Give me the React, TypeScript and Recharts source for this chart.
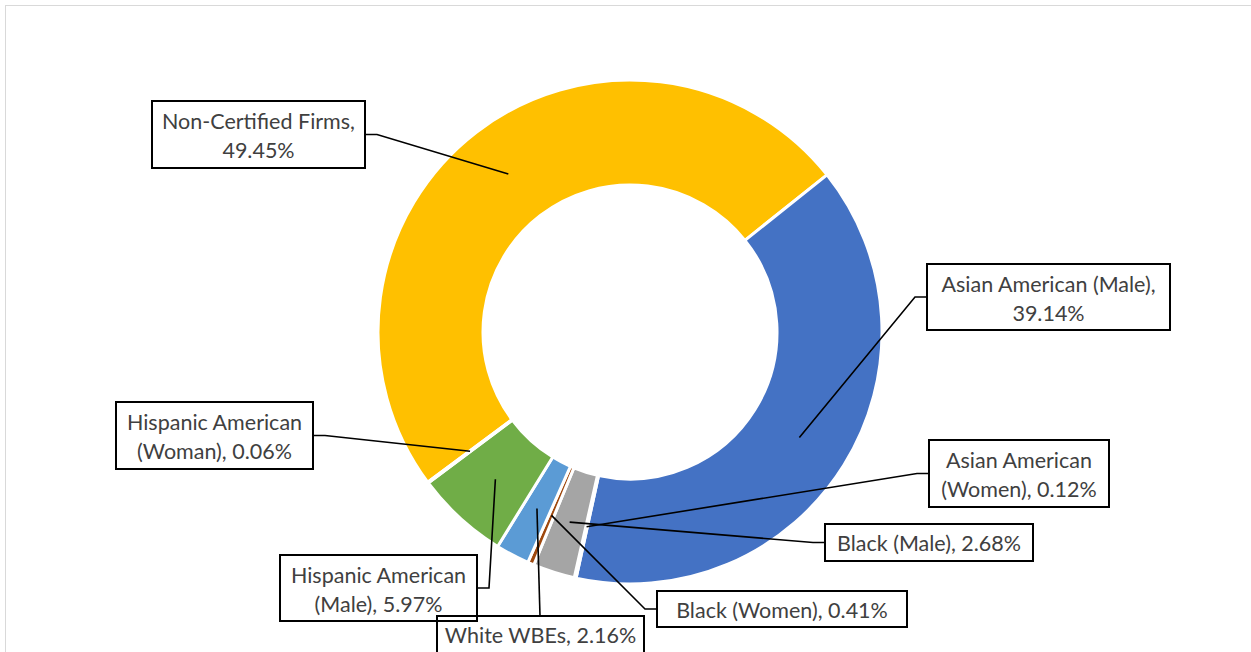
import { Cell, Pie, PieChart } from "recharts";

const CATEGORIES = [
  "Non-Certified Firms",
  "Asian American (Male)",
  "Asian American (Women)",
  "Black (Male)",
  "Black (Women)",
  "White WBEs",
  "Hispanic American (Male)",
  "Hispanic American (Woman)",
];
const SHARES = [49.45, 39.14, 0.12, 2.68, 0.41, 2.16, 5.97, 0.06];
const COLORS = ["#FFC000", "#4472C4", "#ED7D31", "#A5A5A5", "#9E480E", "#5B9BD5", "#70AD47", "#264478"];

// label boxes: where each data label sits, which edge the leader joins, words on line 1 (0 = single line)
const BOXES = [
  { x: 152, y: 101, w: 213, h: 67, side: "right", wrap: 2 },
  { x: 927, y: 264, w: 243, h: 66, side: "left", wrap: 3 },
  { x: 929, y: 440, w: 180, h: 67, side: "left", wrap: 2 },
  { x: 825, y: 524, w: 208, h: 37, side: "left", wrap: 0 },
  { x: 657, y: 591, w: 250, h: 36, side: "left", wrap: 0 },
  { x: 437, y: 616, w: 207, h: 37, side: "top", wrap: 0, at: 540 },
  { x: 280, y: 555, w: 197, h: 66, side: "right", wrap: 2 },
  { x: 116, y: 402, w: 197, h: 67, side: "right", wrap: 2 },
];

const data = CATEGORIES.map((name, i) => ({ name, value: SHARES[i] }));

const RAD = Math.PI / 180;
const TEXT = { fontFamily: "Lato, 'Open Sans', sans-serif", fontSize: 21.5, fill: "#404040" };

function renderLabel(p: any) {
  const i = p.index;
  const b = BOXES[i];
  const r = (p.innerRadius + p.outerRadius) / 2;
  const px = p.cx + r * Math.cos(-p.midAngle * RAD);
  const py = p.cy + r * Math.sin(-p.midAngle * RAD);

  let pts: number[][];
  if (b.side === "right") {
    const my = b.y + b.h / 2;
    pts = [[px, py], [b.x + b.w + 12, my], [b.x + b.w, my]];
  } else if (b.side === "left") {
    const my = b.y + b.h / 2;
    pts = [[px, py], [b.x - 12, my], [b.x, my]];
  } else {
    pts = [[px, py], [b.at as number, b.y]];
  }

  const words = `${CATEGORIES[i]}, ${SHARES[i].toFixed(2)}%`.split(" ");
  const lines = b.wrap ? [words.slice(0, b.wrap).join(" "), words.slice(b.wrap).join(" ")] : [words.join(" ")];
  const tx = b.x + b.w / 2;

  return (
    <g key={`lbl-${i}`}>
      <polyline points={pts.map((q) => q.join(",")).join(" ")} fill="none" stroke="#000" strokeWidth={1.6} />
      <rect x={b.x} y={b.y} width={b.w} height={b.h} fill="none" stroke="#000" strokeWidth={2} />
      {lines.map((t, k) => (
        <text key={k} x={tx} y={b.y + (lines.length === 2 ? 28 + k * 29 : 27)} textAnchor="middle" {...TEXT}>
          {t}
        </text>
      ))}
    </g>
  );
}

export default function App() {
  return (
    <div style={{ position: "absolute", left: 0, top: 0, width: 1251, height: 652, overflow: "hidden", background: "#fff" }}>
      <div
        style={{
          position: "absolute",
          left: 5,
          top: 5,
          width: 1400,
          height: 800,
          border: "1.5px solid #d9d9d9",
        }}
      />
      <div style={{ position: "absolute", left: 0, top: 0 }}>
        <PieChart width={1251} height={652} margin={{ top: 0, right: 0, bottom: 0, left: 0 }}>
          <Pie
            data={data}
            dataKey="value"
            nameKey="name"
            cx={630}
            cy={332}
            innerRadius={147}
            outerRadius={252}
            startAngle={216.6}
            endAngle={-143.4}
            stroke="#fff"
            strokeWidth={3}
            label={renderLabel}
            labelLine={false}
            isAnimationActive={false}
          >
            {data.map((d, i) => (
              <Cell key={d.name} fill={COLORS[i]} />
            ))}
          </Pie>
        </PieChart>
      </div>
    </div>
  );
}
